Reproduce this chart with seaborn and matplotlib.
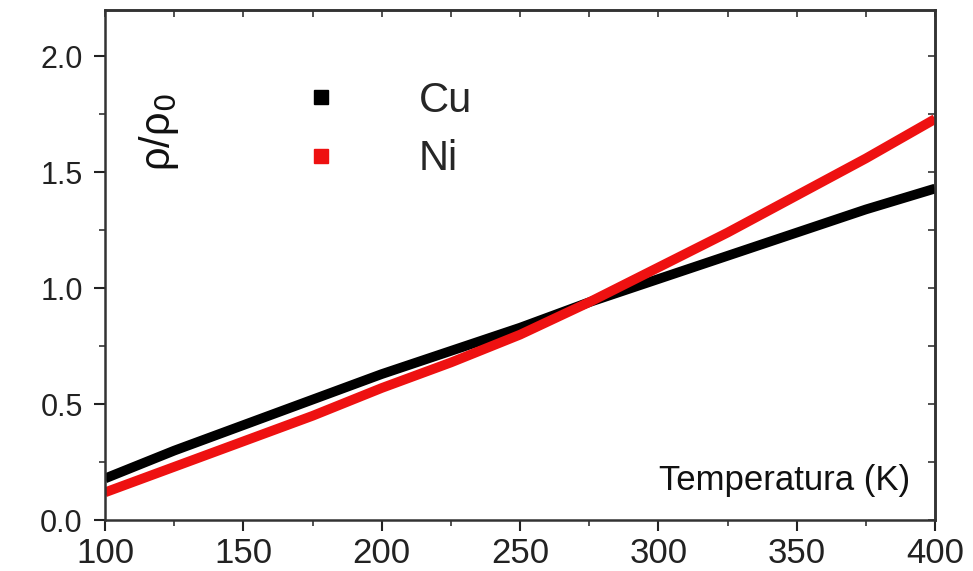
import numpy as np
import pandas as pd
import seaborn as sns
import matplotlib.pyplot as plt
from matplotlib.lines import Line2D
from matplotlib.ticker import MultipleLocator

# values
temperatura = [100, 125, 150, 175, 200, 225, 250, 275, 300, 325, 350, 375, 400]
rho_cu = [0.18, 0.30, 0.41, 0.52, 0.63, 0.73, 0.83, 0.94, 1.04, 1.14, 1.24, 1.34, 1.43]
rho_ni = [0.12, 0.23, 0.34, 0.45, 0.57, 0.68, 0.80, 0.94, 1.09, 1.24, 1.40, 1.56, 1.73]
metales = ['Cu', 'Ni']
colores = ['#000000', '#ee1111']

df = pd.DataFrame({
    'T': temperatura * 2,
    'rho': rho_cu + rho_ni,
    'metal': ['Cu'] * len(temperatura) + ['Ni'] * len(temperatura),
})

sns.set_style('ticks')
plt.rcParams['font.family'] = ['Liberation Sans', 'DejaVu Sans']

fig = plt.figure(figsize=(9.73, 5.71), dpi=100)
ax = fig.add_axes([0.108, 0.089, 0.853, 0.8935])

sns.lineplot(data=df, x='T', y='rho', hue='metal', palette=dict(zip(metales, colores)),
             linewidth=7, legend=False, ax=ax, solid_capstyle='butt')

ax.set(xlim=(100, 400), ylim=(0, 2.2))
ax.xaxis.set_major_locator(MultipleLocator(50))
ax.xaxis.set_minor_locator(MultipleLocator(25))
ax.yaxis.set_major_locator(MultipleLocator(0.5))
ax.yaxis.set_minor_locator(MultipleLocator(0.25))
ax.yaxis.set_major_formatter(plt.FormatStrFormatter('%.1f'))
ax.tick_params(axis='x', which='major', direction='out', length=8, width=1.5, labelsize=25, pad=4, colors='#222222')
ax.tick_params(axis='y', which='major', direction='out', length=8, width=1.5, labelsize=22, pad=8, colors='#222222')
ax.tick_params(which='minor', direction='out', length=4, width=1.2, colors='#333333')
for s in ax.spines.values():
    s.set_linewidth(1.8)
    s.set_color('#333333')

# mirrored ticks, pointing inwards
top = ax.secondary_xaxis('top')
top.xaxis.set_major_locator(MultipleLocator(50))
top.xaxis.set_minor_locator(MultipleLocator(25))
top.tick_params(which='both', direction='in', labeltop=False, length=5, width=1.2, colors='#333333')
right = ax.secondary_yaxis('right')
right.yaxis.set_major_locator(MultipleLocator(0.5))
right.yaxis.set_minor_locator(MultipleLocator(0.25))
right.tick_params(which='both', direction='in', labelright=False, length=5, width=1.2, colors='#333333')
top.spines['top'].set_linewidth(1.8)
right.spines['right'].set_linewidth(1.8)

ax.set_xlabel('')
ax.set_ylabel('')
ax.text(0.97, 0.045, 'Temperatura (K)', transform=ax.transAxes, ha='right', va='bottom',
        fontsize=25, color='#111111')
ax.text(0.065, 0.76, 'ρ/ρ$_0$', transform=ax.transAxes, ha='center', va='center',
        rotation=90, fontsize=30, color='#111111')

handles = [Line2D([], [], marker='s', linestyle='none', color=c, markersize=10) for c in colores]
ax.legend(handles, metales, loc='upper left', bbox_to_anchor=(0.19, 0.935), frameon=False,
          fontsize=30, handlelength=1, handletextpad=1.85, labelspacing=0.45)

fig.savefig('out.png', dpi=100)
